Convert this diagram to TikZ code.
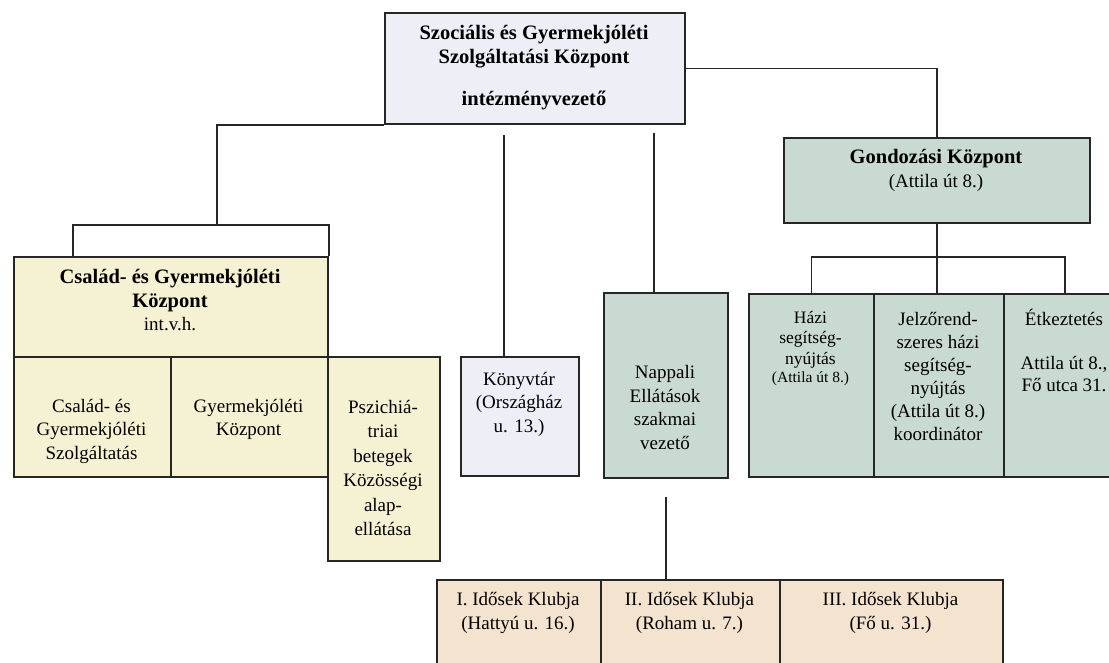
\documentclass[tikz,border=0pt]{standalone}
\usepackage{fontspec}
\setmainfont{Liberation Serif}
\usetikzlibrary{calc}
\definecolor{lav}{HTML}{EEEFF6}
\definecolor{yel}{HTML}{F5F2D3}
\definecolor{grn}{HTML}{C9DAD2}
\definecolor{pch}{HTML}{F4E4CF}
\newcommand\orgbox[6]{\node[box, fill=#6, minimum width={(#4-#2)*1pt}, minimum height={(#5-#3)*1pt}] (#1) at (#2,#3) {};}
\begin{document}
\begin{tikzpicture}[x=1pt,y=-1pt,
  box/.style={draw=black!85, line width=2pt, inner sep=0pt, anchor=north west},
  conn/.style={draw=black!85, line width=1.9pt},
  txt/.style={align=center, inner sep=0pt, font=\fontsize{19}{23.5}\selectfont},
  btxt/.style={align=center, inner sep=0pt, font=\bfseries\fontsize{20.5}{24}\selectfont},
  htxt/.style={align=center, inner sep=0pt, font=\fontsize{17.5}{20.5}\selectfont},
  stxt/.style={align=center, inner sep=0pt, font=\fontsize{15.5}{18}\selectfont}]
\useasboundingbox (0,0) rectangle (1109,663);
% boxes
\orgbox{T}{384}{12}{684}{123}{lav}
\orgbox{CS}{13}{256}{327}{356}{yel}
\orgbox{CSa}{13}{356}{170}{476}{yel}
\orgbox{CSb}{170}{356}{327}{476}{yel}
\orgbox{PS}{327}{356}{439}{560}{yel}
\orgbox{KV}{460}{356}{578}{475}{lav}
\orgbox{NP}{603}{292}{727}{477}{grn}
\orgbox{GK}{783}{137}{1089}{222}{grn}
\orgbox{H}{748}{293}{873}{476}{grn}
\orgbox{J}{873}{293}{1003}{476}{grn}
\orgbox{E}{1003}{293}{1125}{476}{grn}
\orgbox{K1}{436}{579}{600}{700}{pch}
\orgbox{K2}{600}{579}{779}{700}{pch}
\orgbox{K3}{779}{579}{1002}{700}{pch}
% junction coordinates
\coordinate (j1) at (217,225);
\coordinate (kvtop) at (504,135);
\coordinate (nptop) at (654,133);
\coordinate (npbot) at (666,497);
\coordinate (gbar) at (936,257);
% connectors
\draw[conn] (T.south west) -| (j1);
\draw[conn] ([xshift=60pt]CS.north west) |- (CS.north east |- j1) -- (CS.north east);
\draw[conn] (T.east) -| (GK.north);
\draw[conn] (kvtop) -- (kvtop |- KV.north);
\draw[conn] (nptop) -- (nptop |- NP.north);
\draw[conn] (npbot) -- (npbot |- K2.north);
\draw[conn] (GK.south) -- (GK.south |- J.north);
\draw[conn] (H.north) |- (gbar) -| (E.north);
% texts
\node[btxt] (tT1) at (534,47) {Szociális és Gyermekjóléti\\Szolgáltatási Központ};
\node[btxt] (tT2) at (534,100) {intézményvezető};
\node[btxt] (tCS1) at (170,291) {Család- és Gyermekjóléti\\Központ};
\node[txt] (tCS2) at (170,324) {int.v.h.};
\node[txt] (tCSa) at (91.5,431) {Család- és\\Gyermekjóléti\\Szolgáltatás};
\node[txt] (tCSb) at (248.5,419.5) {Gyermekjóléti\\Központ};
\node[txt, font=\fontsize{19}{24.4}\selectfont] (tPS) at (383,468) {Pszichiá-\\triai\\betegek\\Közösségi\\alap-\\ellátása};
\node[txt] (tKV) at (519,404) {Könyvtár\\(Országház\\u. 13.)};
\node[txt] (tNP) at (665,407.5) {Nappali\\Ellátások\\szakmai\\vezető};
\node[btxt] (tGK1) at (936,159) {Gondozási Központ};
\node[txt] (tGK2) at (936,183) {(Attila út 8.)};
\node[htxt] (tH1) at (810.5,339.5) {Házi\\segítség-\\nyújtás};
\node[stxt] (tH2) at (810.5,379) {(Attila út 8.)};
\node[txt, font=\fontsize{19}{23}\selectfont] (tJ) at (938,376) {Jelzőrend-\\szeres házi\\segítség-\\nyújtás\\(Attila út 8.)\\koordinátor};
\node[txt] (tE1) at (1064,317) {Étkeztetés};
\node[txt, font=\fontsize{19}{21.5}\selectfont] (tE2) at (1064,374) {Attila út 8.,\\Fő utca 31.};
\node[txt] (tK1) at (518,613) {I. Idősek Klubja\\(Hattyú u. 16.)};
\node[txt] (tK2) at (689.5,613) {II. Idősek Klubja\\(Roham u. 7.)};
\node[txt] (tK3) at (890.5,613) {III. Idősek Klubja\\(Fő u. 31.)};
\end{tikzpicture}
\end{document}
